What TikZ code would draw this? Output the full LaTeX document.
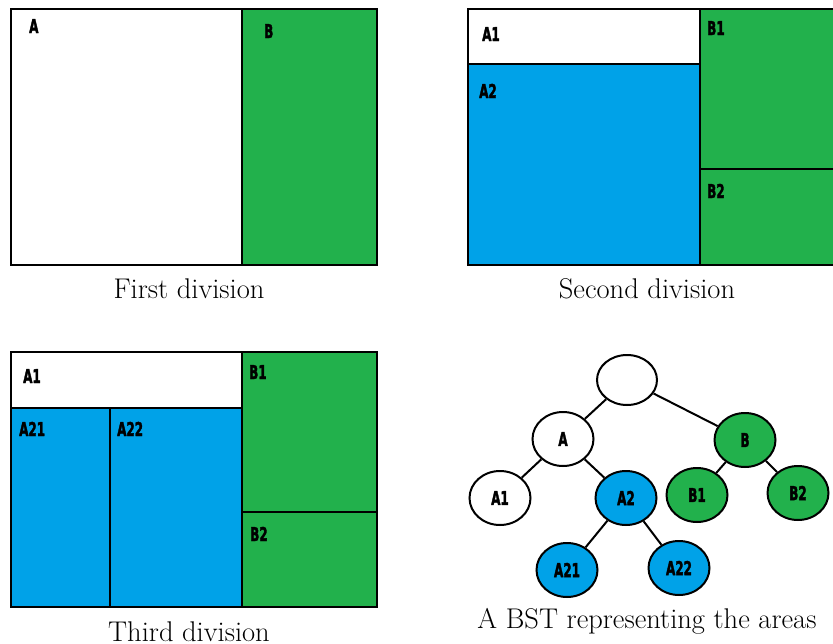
\documentclass[tikz,border=0pt]{standalone}
\usepackage{fontspec}
\usepackage{graphicx}
\usetikzlibrary{shapes.geometric}
\newfontfamily\lab[BoldFeatures={FakeBold=2.5}]{DejaVu Sans Condensed}
\definecolor{pgreen}{HTML}{22B14C}
\definecolor{pblue}{HTML}{00A2E8}
\newcommand{\lbl}[1]{{\lab\bfseries\fontsize{19}{19}\selectfont\scalebox{0.7}[1]{#1}}}
\begin{document}
\begin{tikzpicture}[x=1pt,y=-1pt,
  border/.style={draw=black,line width=2.6pt},
  divline/.style={draw=black,line width=2.2pt},
  area/.style={anchor=base west,inner sep=0pt},
  caption/.style={anchor=base,inner sep=0pt,font=\fontsize{28.5}{32}\selectfont},
  tnode/.style={ellipse,draw=black,line width=2pt,minimum width=61pt,minimum height=54pt,inner sep=0pt},
  tedge/.style={draw=black,line width=2pt}]
\useasboundingbox (0,0) rectangle (833,643);
% ---- First division
\fill[white] (11,9) rectangle (242,265);
\fill[pgreen] (242,9) rectangle (377,265);
\draw[divline] (242,9) -- (242,265);
\draw[border] (11,9) rectangle (377,265);
\node[area] (p1a) at (29,33) {\lbl{A}};
\node[area] (p1b) at (264,38) {\lbl{B}};
\node[caption] (c1) at (189,298) {First division};
% ---- Second division
\fill[white] (468,9) rectangle (700,64);
\fill[pblue] (468,64) rectangle (700,265);
\fill[pgreen] (700,9) rectangle (836,265);
\draw[divline] (468,64) -- (700,64);
\draw[divline] (700,169) -- (836,169);
\draw[divline] (700,9) -- (700,265);
\draw[border] (468,9) rectangle (836,265);
\node[area] (p2a1) at (482,41) {\lbl{A1}};
\node[area] (p2a2) at (479,98) {\lbl{A2}};
\node[area] (p2b1) at (707,35) {\lbl{B1}};
\node[area] (p2b2) at (707,198) {\lbl{B2}};
\node[caption] (c2) at (647,298) {Second division};
% ---- Third division
\fill[white] (11,352) rectangle (242,408);
\fill[pblue] (11,408) rectangle (242,607);
\fill[pgreen] (242,352) rectangle (377,607);
\draw[divline] (11,408) -- (242,408);
\draw[divline] (110,408) -- (110,607);
\draw[divline] (242,512) -- (377,512);
\draw[divline] (242,352) -- (242,607);
\draw[border] (11,352) rectangle (377,607);
\node[area] (p3a1) at (23,383) {\lbl{A1}};
\node[area] (p3a21) at (19,436) {\lbl{A21}};
\node[area] (p3a22) at (117,436) {\lbl{A22}};
\node[area] (p3b1) at (249,379) {\lbl{B1}};
\node[area] (p3b2) at (250,541) {\lbl{B2}};
\node[caption] (c3) at (189,641) {Third division};
% ---- Tree
\node[tnode,fill=white,minimum width=60pt,minimum height=50pt] (root) at (627,380) {};
\node[tnode,fill=white] (A) at (563,439) {\lbl{A}};
\node[tnode,fill=pgreen] (B) at (745,440) {\lbl{B}};
\node[tnode,fill=white] (A1) at (500,498) {\lbl{A1}};
\node[tnode,fill=pblue] (A2) at (626,498) {\lbl{A2}};
\node[tnode,fill=pgreen] (B1) at (697,495) {\lbl{B1}};
\node[tnode,fill=pgreen] (B2) at (798,493) {\lbl{B2}};
\node[tnode,fill=pblue] (A21) at (567,570) {\lbl{A21}};
\node[tnode,fill=pblue] (A22) at (679,568) {\lbl{A22}};
\draw[tedge] (root) -- (A);
\draw[tedge] (root) -- (B);
\draw[tedge] (A) -- (A1);
\draw[tedge] (A) -- (A2);
\draw[tedge] (B) -- (B1);
\draw[tedge] (B) -- (B2);
\draw[tedge] (A2) -- (A21);
\draw[tedge] (A2) -- (A22);
\node[caption] (c4) at (647,628) {A BST representing the areas};
\end{tikzpicture}
\end{document}
